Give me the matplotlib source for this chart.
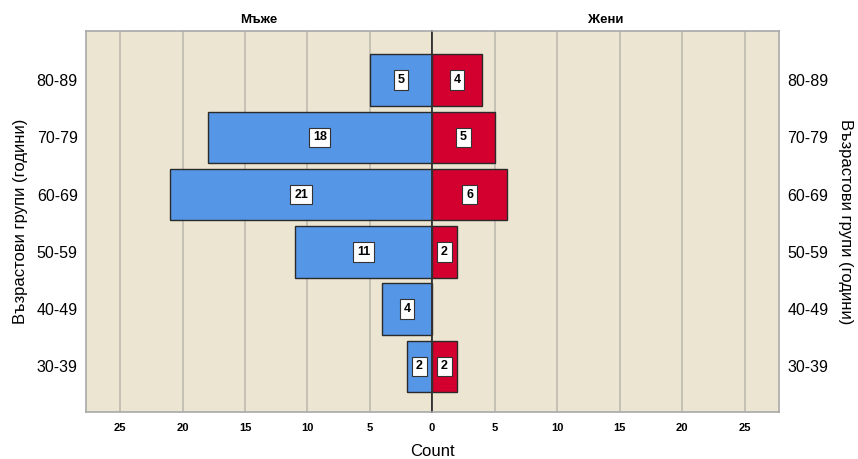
import matplotlib.pyplot as plt
import matplotlib

matplotlib.rcParams['font.family'] = ['Liberation Sans', 'DejaVu Sans']

# възрастови групи отдолу нагоре
groups = ['30-39', '40-49', '50-59', '60-69', '70-79', '80-89']
men = [2, 4, 11, 21, 18, 5]
women = [2, 0, 2, 6, 5, 4]
ticks = [0, 5, 10, 15, 20, 25]

bg = '#EBE5D1'
blue = '#5596E6'
red = '#D3002F'
xmax = 27.75

fig = plt.figure(figsize=(8.58, 4.59), dpi=100)
axL = fig.add_axes([86 / 858, 1 - 411.5 / 459, 346 / 858, 380.5 / 459])
axR = fig.add_axes([432 / 858, 1 - 411.5 / 459, 347 / 858, 380.5 / 459])

y = range(len(groups))
for ax, vals, col, title in [(axL, men, blue, 'Мъже'), (axR, women, red, 'Жени')]:
    ax.set_facecolor(bg)
    ax.set_xlim(0, xmax)
    ax.set_ylim(-0.79, 5.86)
    for t in ticks[1:]:
        ax.axvline(t, color='#C2BEB2', lw=1.3, zorder=1)
    bars = ax.barh(y, vals, height=0.9, color=col, edgecolor='#2A2A2A',
                   linewidth=1.0, zorder=2)
    for b, v in zip(bars, vals):
        if v == 0:
            continue
        ax.text(v / 2, b.get_y() + b.get_height() / 2, str(v),
                ha='center', va='center', fontsize=9, fontweight='bold',
                zorder=3, linespacing=1.6,
                bbox=dict(boxstyle='square,pad=0.3', fc='white',
                          ec='#333333', lw=0.8))
    ax.set_title(title, fontsize=9.5, fontweight='bold', pad=6)
    ax.set_yticks(list(y))
    ax.tick_params(axis='both', length=0)
    for s in ax.spines.values():
        s.set_color('#A8A8A8')
        s.set_linewidth(1.2)

axL.invert_xaxis()
axL.set_xticks(ticks)
axL.set_xticklabels([str(t) for t in ticks], fontsize=8, fontweight='bold')
axR.set_xticks(ticks[1:])
axR.set_xticklabels([str(t) for t in ticks[1:]], fontsize=8, fontweight='bold')
axL.tick_params(axis='x', pad=8)
axR.tick_params(axis='x', pad=8)

axL.set_yticklabels(groups, fontsize=11.5)
axL.tick_params(axis='y', pad=6)
axR.yaxis.tick_right()
axR.set_yticklabels(groups, fontsize=11.5)
axR.tick_params(axis='y', pad=6)

axL.spines['right'].set_color('#333333')
axR.spines['left'].set_color('#333333')
axR.spines['left'].set_linewidth(1.3)
axL.spines['right'].set_linewidth(1.3)

axL.set_ylabel('Възрастови групи (години)', fontsize=12, labelpad=6)
axR.yaxis.set_label_position('right')
axR.set_ylabel('Възрастови групи (години)', fontsize=12, rotation=-90,
               labelpad=18)

fig.text(432 / 858, 1 - 452 / 459, 'Count', ha='center', va='center',
         fontsize=12)

fig.savefig('out.png', dpi=100)
